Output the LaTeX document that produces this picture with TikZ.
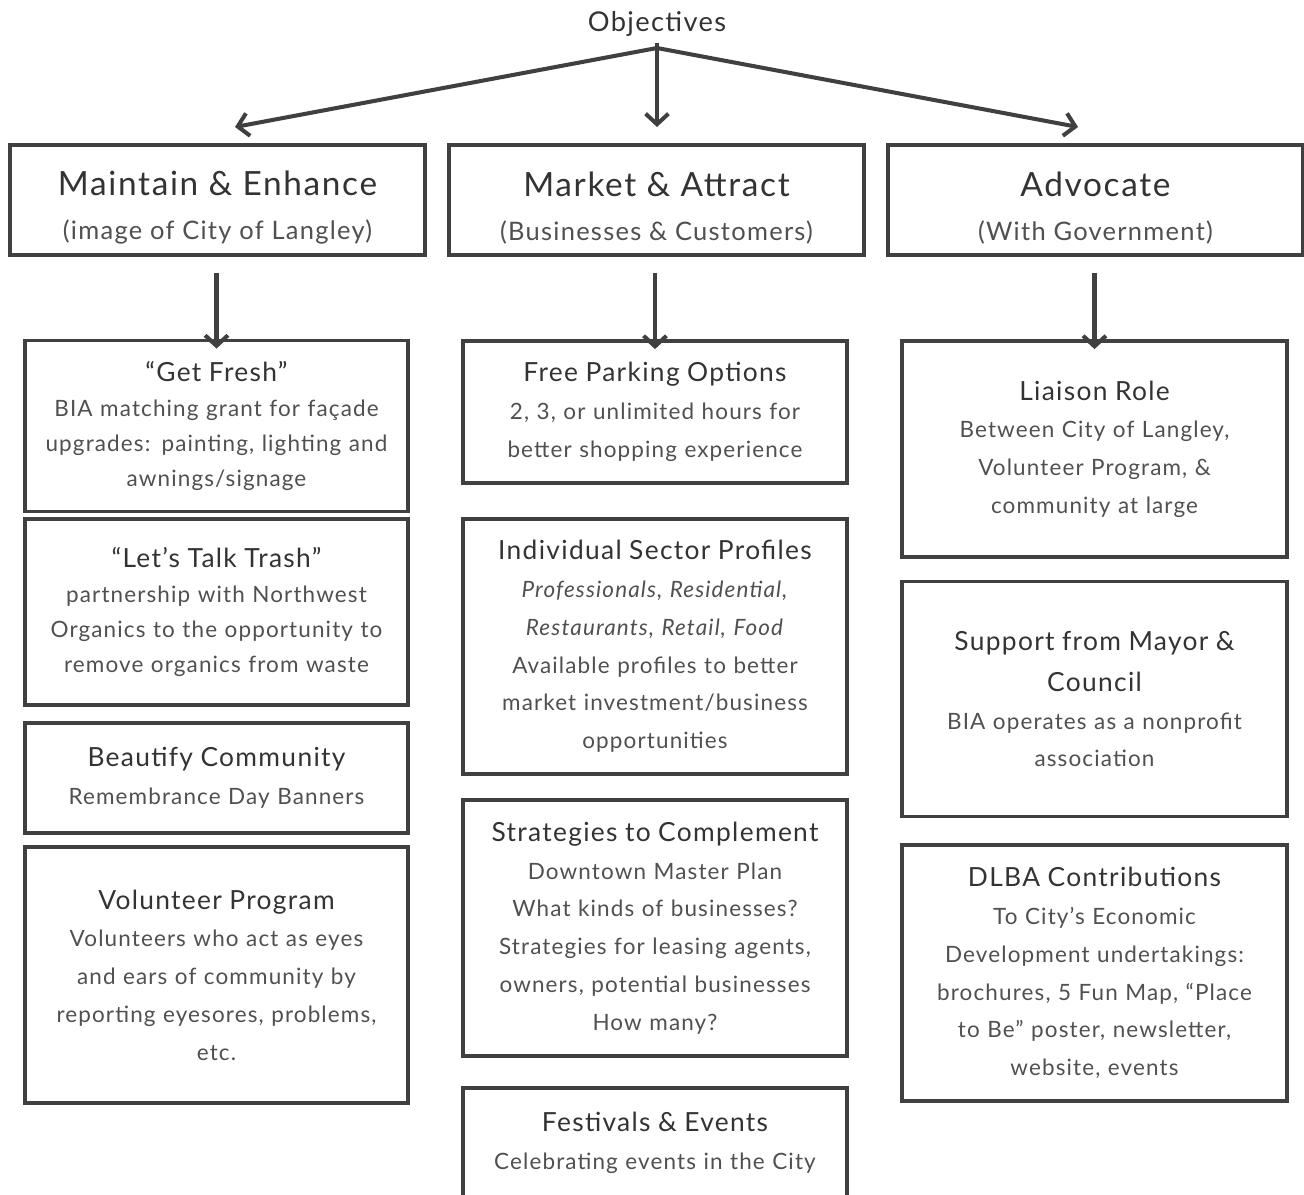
\documentclass[tikz,border=0pt]{standalone}
\usepackage{fontspec}
\setmainfont{Lato}[LetterSpace=5]
\usetikzlibrary{arrows.meta}

\definecolor{linegray}{HTML}{404040}
\definecolor{headgray}{HTML}{333333}
\definecolor{bodygray}{HTML}{505050}

\begin{document}
\begin{tikzpicture}[
    x=0.02cm, y=-0.02cm,
    arr/.style={draw=linegray, line width=2.3pt, -{Straight Barb[length=6pt,width=13pt]}},
    topbox/.style={draw=linegray, line width=2.2pt, minimum width=8.3cm, minimum height=2.2cm,
        align=center, text=bodygray, font=\fontsize{14.5pt}{25pt}\selectfont},
    itembox/.style={draw=linegray, line width=2.2pt, minimum height=#1, inner sep=0.1cm,
        text width=7.4cm, align=center, text=bodygray, font=\fontsize{12.8pt}{21.5pt}\selectfont},
    lcol/.style={itembox=#1, minimum width=7.66cm},
    mcol/.style={itembox=#1, minimum width=7.68cm},
    rcol/.style={itembox=#1, minimum width=7.7cm},
    tight/.style={font=\fontsize{12.8pt}{19.8pt}\selectfont},
]
\newcommand{\hd}[1]{{\color{headgray}\fontsize{15pt}{20pt}\selectfont #1}}
\newcommand{\ttl}[1]{{\color{headgray}\fontsize{19pt}{24pt}\selectfont\rule{0pt}{0.8cm}#1}}
\useasboundingbox (0,0) rectangle (1304,1194);

% ---- objectives ----
\node[text=headgray, font=\fontsize{15.5pt}{18pt}\selectfont] (obj) at (657,24) {Objectives};
\coordinate (split) at (657,48);
\coordinate (tipL) at (235,127);
\coordinate (tipM) at (657,127);
\coordinate (tipR) at (1078,127);

% ---- top row ----
\node[topbox] (maint) at (217.5,200) {\ttl{Maintain \& Enhance}\\(image of City of Langley)};
\node[topbox] (market) at (656.5,200) {\ttl{Market \& Attract}\\(Businesses \& Customers)};
\node[topbox] (advoc) at (1095.5,200) {\ttl{Advocate}\\(With Government)};

% ---- left column ----
\node[lcol=3.42cm, tight] (fresh) at (216.5,426)
    {\hd{“Get Fresh”}\\BIA matching grant for façade\\upgrades: painting, lighting and\\awnings/signage};
\node[lcol=3.72cm, tight] (trash) at (216.5,612)
    {\hd{“Let’s Talk Trash”}\\partnership with Northwest\\Organics to the opportunity to\\remove organics from waste};
\node[lcol=2.2cm] (beauty) at (216.5,778)
    {\hd{Beautify Community}\\Remembrance Day Banners};
\node[lcol=5.12cm] (volun) at (216.5,975)
    {\hd{Volunteer Program}\\Volunteers who act as eyes\\and ears of community by\\reporting eyesores, problems,\\etc.};

% ---- middle column ----
\node[mcol=2.84cm] (park) at (655,412)
    {\hd{Free Parking Options}\\2, 3, or unlimited hours for\\better shopping experience};
\node[mcol=5.1cm] (sector) at (655,646.5)
    {\hd{Individual Sector Profiles}\\\textit{Professionals, Residential,}\\\textit{Restaurants, Retail, Food}\\Available profiles to better\\market investment/business\\opportunities};
\node[mcol=5.12cm] (strat) at (655,928)
    {\hd{Strategies to Complement}\\Downtown Master Plan\\What kinds of businesses?\\Strategies for leasing agents,\\owners, potential businesses\\How many?};
\node[mcol=2.2cm] (fest) at (655,1143)
    {\hd{Festivals \& Events}\\Celebrating events in the City};

% ---- right column ----
\node[rcol=4.32cm] (liaison) at (1094.5,449)
    {\hd{Liaison Role}\\Between City of Langley,\\Volunteer Program, \&\\community at large};
\node[rcol=4.7cm] (mayor) at (1094.5,699)
    {\hd{Support from Mayor \&}\\[2pt]\hd{Council}\\BIA operates as a nonprofit\\association};
\node[rcol=5.12cm] (dlba) at (1094.5,973)
    {\hd{DLBA Contributions}\\To City’s Economic\\Development undertakings:\\brochures, 5 Fun Map, “Place\\to Be” poster, newsletter,\\website, events};

% ---- arrows ----
\draw[arr] (split) -- (tipL);
\draw[arr] (split) -- (tipM);
\draw[arr] (split) -- (tipR);
\draw[line width=2.3pt, draw=linegray] (split) -- (obj.south -| split);

\draw[arr, shorten <=0.32cm, shorten >=-0.2cm] (maint.south -| fresh.north) -- (fresh.north);
\draw[arr, shorten <=0.32cm, shorten >=-0.2cm] (market.south -| park.north) -- (park.north);
\draw[arr, shorten <=0.32cm, shorten >=-0.2cm] (advoc.south -| liaison.north) -- (liaison.north);
\end{tikzpicture}
\end{document}
